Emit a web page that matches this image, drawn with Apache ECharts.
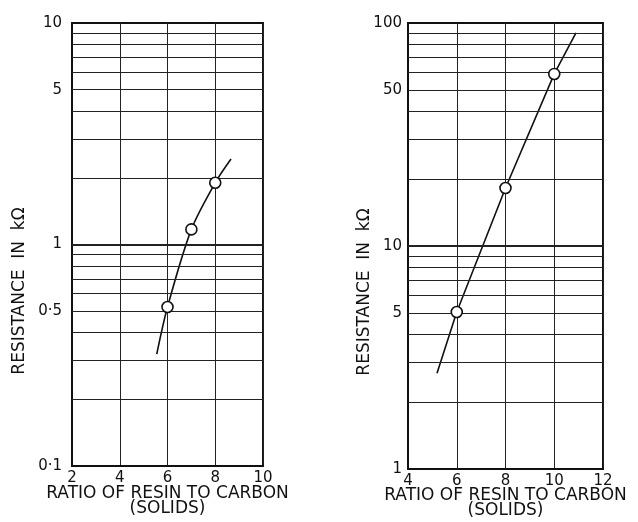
<!DOCTYPE html>
<html>
<head>
<meta charset="utf-8">
<script src="https://cdn.jsdelivr.net/npm/echarts@6/dist/echarts.min.js"></script>
<style>
html,body{margin:0;padding:0;background:#fff;}
#c{width:638px;height:522px;}
</style>
</head>
<body>
<div id="c"></div>
<script>
// Left chart
var leftXTicks = [2, 4, 6, 8, 10];
var leftYLabels = [0.1, 0.5, 1, 5, 10];
var leftCurveX = [5.55, 6, 7, 8, 8.66];
var leftCurveY = [0.32, 0.522, 1.17, 1.90, 2.43];
var leftPointX = [6, 7, 8];
var leftPointY = [0.522, 1.17, 1.90];
var leftGrid = [0.2, 0.3, 0.4, 0.5, 0.6, 0.7, 0.8, 0.9, 1, 2, 3, 4, 5, 6, 7, 8, 9];

// Right chart
var rightXTicks = [4, 6, 8, 10, 12];
var rightYLabels = [1, 5, 10, 50, 100];
var rightCurveX = [5.19, 6, 8, 10, 10.89];
var rightCurveY = [2.69, 5.06, 18.2, 59.1, 90.2];
var rightPointX = [6, 8, 10];
var rightPointY = [5.06, 18.2, 59.1];
var rightGrid = [2, 3, 4, 5, 6, 7, 8, 9, 10, 20, 30, 40, 50, 60, 70, 80, 90];

var yName = 'RESISTANCE  IN  kΩ';
var xName = 'RATIO OF RESIN TO CARBON\n(SOLIDS)';

var FONT = 'DejaVu Sans';
var INK = '#111';

function pairs(xs, ys) { return xs.map(function (x, i) { return [x, ys[i]]; }); }
function fmt(v) { return String(v).replace('.', '·'); }
function gridLines(vals, major) {
  return vals.map(function (v) {
    return { yAxis: v, lineStyle: { width: v === major ? 2.2 : 1 } };
  });
}

var chart = echarts.init(document.getElementById('c'), null, { renderer: 'canvas' });

function xAxisCfg(idx, ticks, gap) {
  return {
    type: 'value', gridIndex: idx, min: ticks[0], max: ticks[ticks.length - 1], interval: 2,
    name: xName, nameLocation: 'middle', nameGap: gap, nameMoveOverlap: false,
    nameTextStyle: { fontFamily: FONT, fontSize: 17, color: INK, lineHeight: 15, verticalAlign: 'top' },
    axisLine: { show: true, lineStyle: { color: INK, width: 2 } },
    axisTick: { show: false },
    axisLabel: { fontFamily: FONT, fontSize: 15, color: INK, margin: 5 },
    splitLine: { show: true, lineStyle: { color: '#222', width: 1 } }
  };
}
function yAxisCfg(idx, labels, margin) {
  return {
    type: 'log', logBase: 10, gridIndex: idx, min: labels[0], max: labels[labels.length - 1],
    axisLine: { show: true, lineStyle: { color: INK, width: 2 } },
    axisTick: { show: false },
    axisLabel: { customValues: labels, formatter: fmt, fontFamily: FONT, fontSize: 15, color: INK, margin: margin },
    splitLine: { show: false }
  };
}
function curveSeries(idx, xs, ys, major, gridVals, smooth) {
  return {
    type: 'line', xAxisIndex: idx, yAxisIndex: idx, data: pairs(xs, ys),
    smooth: smooth, showSymbol: false, symbol: 'none',
    lineStyle: { color: INK, width: 1.6 }, z: 3, silent: true, animation: false,
    markLine: {
      silent: true, symbol: ['none', 'none'], label: { show: false }, animation: false,
      lineStyle: { color: '#222', width: 1, type: 'solid' },
      data: gridLines(gridVals, major)
    }
  };
}
function pointSeries(idx, xs, ys) {
  return {
    type: 'scatter', xAxisIndex: idx, yAxisIndex: idx, data: pairs(xs, ys),
    symbol: 'circle', symbolSize: 11, z: 5, silent: true, animation: false,
    itemStyle: { color: '#fff', borderColor: INK, borderWidth: 1.6, opacity: 1 }
  };
}

chart.setOption({
  backgroundColor: '#fff',
  animation: false,
  grid: [
    { left: 72, top: 23, width: 191, height: 443, outerBoundsMode: 'none', containLabel: false, show: true, borderColor: INK, borderWidth: 2, backgroundColor: 'transparent' },
    { left: 408, top: 23, width: 195, height: 446, outerBoundsMode: 'none', containLabel: false, show: true, borderColor: INK, borderWidth: 2, backgroundColor: 'transparent' }
  ],
  xAxis: [xAxisCfg(0, leftXTicks, 20), xAxisCfg(1, rightXTicks, 19)],
  yAxis: [yAxisCfg(0, leftYLabels, 10), yAxisCfg(1, rightYLabels, 6)],
  graphic: [
    { type: 'text', x: 20, y: 291, rotation: Math.PI / 2,
      style: { text: yName, font: '17px "DejaVu Sans"', fill: INK, align: 'center', verticalAlign: 'middle' } },
    { type: 'text', x: 365, y: 292, rotation: Math.PI / 2,
      style: { text: yName, font: '17px "DejaVu Sans"', fill: INK, align: 'center', verticalAlign: 'middle' } }
  ],
  series: [
    curveSeries(0, leftCurveX, leftCurveY, 1, leftGrid, 0.3),
    pointSeries(0, leftPointX, leftPointY),
    curveSeries(1, rightCurveX, rightCurveY, 10, rightGrid, false),
    pointSeries(1, rightPointX, rightPointY)
  ]
});
</script>
</body>
</html>
